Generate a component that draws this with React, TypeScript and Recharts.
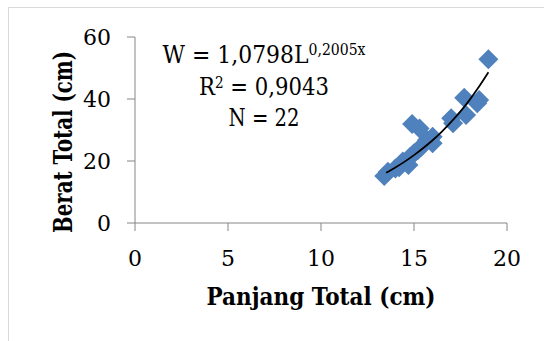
import { ScatterChart, Scatter, XAxis, YAxis, Customized } from 'recharts';

const panjang = [13.4, 13.6, 14.0, 14.2, 14.4, 14.7, 14.8, 14.9, 15.0, 15.2, 15.3, 15.4, 15.7, 16.0, 16.0, 17.0, 17.1, 17.7, 17.8, 18.4, 18.5, 19.0];
const berat = [15.2, 16.5, 17.6, 18.0, 19.8, 18.7, 21.4, 31.9, 22.5, 23.5, 30.5, 24.6, 26.8, 27.8, 25.7, 33.8, 32.2, 40.4, 34.8, 38.6, 39.7, 52.8];

const trendX = [13.5, 14, 14.5, 15, 15.5, 16, 16.5, 17, 17.5, 18, 18.5, 19];
const trendY = [16.2, 17.9, 19.8, 21.9, 24.2, 26.7, 29.5, 32.6, 36.0, 39.8, 44.0, 48.6];

const xTicks = [0, 5, 10, 15, 20];
const yTicks = [0, 20, 40, 60];

const points = panjang.map((x, i) => ({ x, y: berat[i] }));
const trend = trendX.map((x, i) => ({ x, y: trendY[i] }));

const FONT = "'DejaVu Serif', serif";
const BLUE = '#4F81BD';

const Diamond = (props: any) => {
  const { cx, cy } = props;
  const r = 10;
  return <polygon points={`${cx},${cy - r} ${cx + r},${cy} ${cx},${cy + r} ${cx - r},${cy}`} fill={BLUE} />;
};

const XTick = (p: any) => (
  <text x={p.x} y={258} textAnchor="middle" style={{ fontFamily: FONT, fontSize: 22 }} fill="#000">
    {p.payload.value}
  </text>
);

const YTick = (p: any) => (
  <text x={102} y={p.y + 8} textAnchor="end" style={{ fontFamily: FONT, fontSize: 22 }} fill="#000">
    {p.payload.value}
  </text>
);

// trendline label, as Excel places it
const Equation = () => (
  <g style={{ fontFamily: FONT, fontSize: 25 }} fill="#000">
    <text x={255} y={55} textAnchor="middle" textLength={203} lengthAdjust="spacingAndGlyphs">
      W = 1,0798L<tspan style={{ fontSize: 16 }} dy={-8}>0,2005x</tspan>
    </text>
    <text x={255} y={87} textAnchor="middle" textLength={130} lengthAdjust="spacingAndGlyphs">
      R<tspan style={{ fontSize: 16 }} dy={-7}>2</tspan><tspan dy={7}> = 0,9043</tspan>
    </text>
    <text x={255} y={118} textAnchor="middle" textLength={71} lengthAdjust="spacingAndGlyphs">N = 22</text>
  </g>
);

export default function App() {
  return (
    <div style={{ position: 'absolute', left: 8, top: 7, width: 560, height: 360, border: '1px solid #d9d9d9', background: '#fff' }}>
      <style>{'body{overflow:hidden}'}</style>
      <ScatterChart width={560} height={360} margin={{ top: 29, right: 62, bottom: 105, left: 0 }}>
        <XAxis
          type="number"
          dataKey="x"
          domain={[0, 20]}
          ticks={xTicks}
          height={40}
          stroke="#868686"
          tickSize={8}
          tick={XTick}
          label={{
            content: (p: any) => (
              <text x={p.viewBox.x + p.viewBox.width / 2} y={297} textAnchor="middle" textLength={229} lengthAdjust="spacingAndGlyphs" style={{ fontFamily: FONT, fontSize: 24, fontWeight: 'bold' }} fill="#000">
                Panjang Total (cm)
              </text>
            ),
          }}
        />
        <YAxis
          type="number"
          dataKey="y"
          domain={[0, 60]}
          ticks={yTicks}
          width={126}
          stroke="#868686"
          tickSize={8}
          tick={YTick}
          label={{
            content: () => (
              <g transform="translate(63, 134) rotate(-90)">
                <text x={0} y={0} textAnchor="middle" textLength={182} lengthAdjust="spacingAndGlyphs" style={{ fontFamily: FONT, fontSize: 26, fontWeight: 'bold' }} fill="#000">
                  Berat Total (cm)
                </text>
              </g>
            ),
          }}
        />
        <Scatter data={points} fill={BLUE} shape={Diamond} isAnimationActive={false} />
        <Scatter data={trend} line={{ stroke: '#000', strokeWidth: 1.75 }} lineJointType="monotoneX" shape={() => null} isAnimationActive={false} />
        <Customized component={Equation} />
      </ScatterChart>
    </div>
  );
}
